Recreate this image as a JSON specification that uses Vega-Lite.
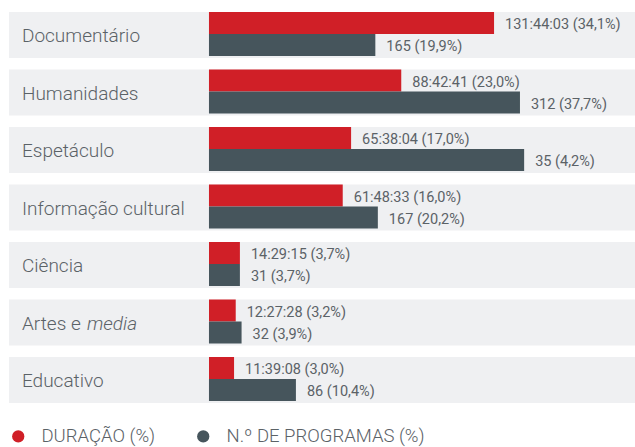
{
  "$schema": "https://vega.github.io/schema/vega-lite/v6.json",
  "width": 626,
  "height": 391,
  "autosize": {"type": "none"},
  "padding": {"left": 9, "top": 12, "right": 0, "bottom": 44},
  "background": "#ffffff",
  "config": {"view": {"stroke": null}},
  "data": {
    "values": [
      {"categoria": "Documentário", "serie": "DURAÇÃO (%)", "valor": 34.1, "rotulo": "131:44:03 (34,1%)"},
      {"categoria": "Documentário", "serie": "N.º DE PROGRAMAS (%)", "valor": 19.9, "rotulo": "165 (19,9%)"},
      {"categoria": "Humanidades", "serie": "DURAÇÃO (%)", "valor": 23.0, "rotulo": "88:42:41 (23,0%)"},
      {"categoria": "Humanidades", "serie": "N.º DE PROGRAMAS (%)", "valor": 37.2, "rotulo": "312 (37,7%)"},
      {"categoria": "Espetáculo", "serie": "DURAÇÃO (%)", "valor": 17.0, "rotulo": "65:38:04 (17,0%)"},
      {"categoria": "Espetáculo", "serie": "N.º DE PROGRAMAS (%)", "valor": 37.7, "rotulo": "35 (4,2%)"},
      {"categoria": "Informação cultural", "serie": "DURAÇÃO (%)", "valor": 16.0, "rotulo": "61:48:33 (16,0%)"},
      {"categoria": "Informação cultural", "serie": "N.º DE PROGRAMAS (%)", "valor": 20.2, "rotulo": "167 (20,2%)"},
      {"categoria": "Ciência", "serie": "DURAÇÃO (%)", "valor": 3.7, "rotulo": "14:29:15 (3,7%)"},
      {"categoria": "Ciência", "serie": "N.º DE PROGRAMAS (%)", "valor": 3.7, "rotulo": "31 (3,7%)"},
      {"categoria": "Artes e media", "serie": "DURAÇÃO (%)", "valor": 3.2, "rotulo": "12:27:28 (3,2%)"},
      {"categoria": "Artes e media", "serie": "N.º DE PROGRAMAS (%)", "valor": 3.9, "rotulo": "32 (3,9%)"},
      {"categoria": "Educativo", "serie": "DURAÇÃO (%)", "valor": 3.0, "rotulo": "11:39:08 (3,0%)"},
      {"categoria": "Educativo", "serie": "N.º DE PROGRAMAS (%)", "valor": 10.4, "rotulo": "86 (10,4%)"}
    ]
  },
  "layer": [
    {
      "transform": [{"filter": "datum.serie === 'DURAÇÃO (%)'"}],
      "mark": {"type": "bar", "color": "#eff0f2"},
      "encoding": {
        "y": {"field": "categoria", "type": "nominal", "sort": null, "axis": null,
              "scale": {"paddingInner": 0.2, "paddingOuter": 0}},
        "x": {"datum": -23.92, "type": "quantitative", "axis": null,
              "scale": {"domain": [-23.92, 50.96], "nice": false, "zero": false}},
        "x2": {"datum": 50.96}
      }
    },
    {
      "mark": {"type": "bar"},
      "encoding": {
        "y": {"field": "categoria", "type": "nominal", "sort": null, "axis": null},
        "yOffset": {"field": "serie", "type": "nominal",
                    "scale": {"paddingInner": 0, "paddingOuter": 0.045, "align": 0}},
        "x": {"field": "valor", "type": "quantitative"},
        "x2": {"datum": 0},
        "color": {"field": "serie", "type": "nominal",
                  "scale": {"domain": ["DURAÇÃO (%)", "N.º DE PROGRAMAS (%)"], "range": ["#d01f27", "#46555c"]},
                  "legend": {
                    "title": null, "orient": "none", "legendX": 0, "legendY": 415,
                    "direction": "horizontal", "columns": 2, "columnPadding": 38,
                    "symbolType": "circle", "symbolSize": 150, "symbolOpacity": 1, "symbolStrokeWidth": 0,
                    "labelFont": "Roboto", "labelFontSize": 18.5, "labelFontWeight": 300, "labelColor": "#5b6267",
                    "labelOffset": 14, "labelLimit": 300, "padding": 0
                  }}
      }
    },
    {
      "mark": {"type": "text", "align": "left", "baseline": "middle", "dx": 11, "dy": 2,
               "font": "Roboto", "fontSize": 14.5, "color": "#5b6267"},
      "encoding": {
        "y": {"field": "categoria", "type": "nominal", "sort": null},
        "yOffset": {"field": "serie", "type": "nominal"},
        "x": {"field": "valor", "type": "quantitative"},
        "text": {"field": "rotulo", "type": "nominal"}
      }
    },
    {
      "transform": [{"filter": "datum.serie === 'DURAÇÃO (%)' && datum.categoria !== 'Artes e media'"}],
      "mark": {"type": "text", "align": "left", "baseline": "middle", "dy": 1,
               "font": "Roboto", "fontSize": 19, "fontWeight": 300, "color": "#5b6267"},
      "encoding": {
        "y": {"field": "categoria", "type": "nominal", "sort": null},
        "x": {"datum": -22.37, "type": "quantitative"},
        "text": {"field": "categoria", "type": "nominal"}
      }
    },
    {
      "transform": [{"filter": "datum.serie === 'DURAÇÃO (%)' && datum.categoria === 'Artes e media'"}],
      "mark": {"type": "text", "align": "left", "baseline": "middle", "dy": 1,
               "font": "Roboto", "fontSize": 19, "fontWeight": 300, "color": "#5b6267", "text": "Artes e"},
      "encoding": {
        "y": {"field": "categoria", "type": "nominal", "sort": null},
        "x": {"datum": -22.37, "type": "quantitative"}
      }
    },
    {
      "transform": [{"filter": "datum.serie === 'DURAÇÃO (%)' && datum.categoria === 'Artes e media'"}],
      "mark": {"type": "text", "align": "left", "baseline": "middle", "dy": 1, "dx": 65,
               "font": "Roboto", "fontSize": 19, "fontWeight": 300, "fontStyle": "italic", "color": "#5b6267", "text": "media"},
      "encoding": {
        "y": {"field": "categoria", "type": "nominal", "sort": null},
        "x": {"datum": -22.37, "type": "quantitative"}
      }
    }
  ]
}
